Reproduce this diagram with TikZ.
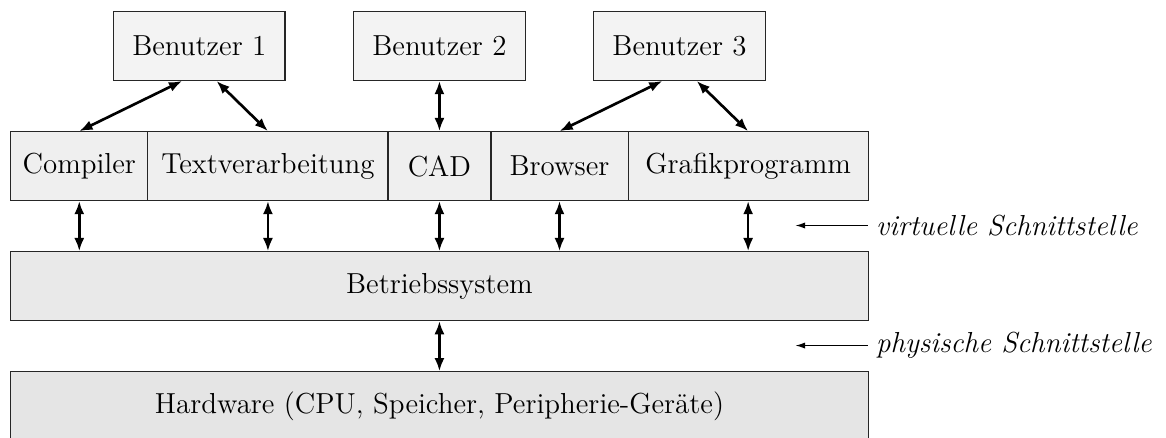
\documentclass[tikz,border=0pt]{standalone}
\usetikzlibrary{arrows.meta}
\definecolor{cuser}{HTML}{F3F3F3}
\definecolor{capp}{HTML}{EFEFEF}
\definecolor{cos}{HTML}{E9E9E9}
\definecolor{chw}{HTML}{E5E5E5}
\tikzset{
  box/.style={draw=black!85, line width=0.5pt, minimum height=1cm, inner sep=0pt, anchor=north west, font=\large},
  userbox/.style={box, fill=cuser, minimum width=2.5cm},
  appbox/.style={box, fill=capp},
  link/.style={{Latex[length=5.5pt,width=4.2pt]}-{Latex[length=5.5pt,width=4.2pt]}, line width=1.1pt},
  note/.style={{Latex[length=4pt,width=2.6pt]}-, line width=0.45pt},
  notetext/.style={anchor=west, font=\large\itshape}
}
\begin{document}
\begin{tikzpicture}
\useasboundingbox (-0.147,0.162) rectangle (16.85,-6.22);
% users
\node[userbox] (b1) at (1.5,0) {Benutzer 1};
\node[userbox] (b2) at (5.0,0) {Benutzer 2};
\node[userbox] (b3) at (8.5,0) {Benutzer 3};
% applications
\node[appbox, minimum width=2.0cm] (comp) at (0,-1.75) {Compiler};
\node[appbox, minimum width=3.5cm] (text) at (2.0,-1.75) {Textverarbeitung};
\node[appbox, minimum width=1.5cm] (cad) at (5.5,-1.75) {CAD};
\node[appbox, minimum width=2.0cm] (brow) at (7.0,-1.75) {Browser};
\node[appbox, minimum width=3.5cm] (graf) at (9.0,-1.75) {Grafikprogramm};
% OS and hardware
\node[box, fill=cos, minimum width=12.5cm] (os) at (0,-3.5) {Betriebssystem};
\node[box, fill=chw, minimum width=12.5cm] (hw) at (0,-5.25) {Hardware (CPU, Speicher, Peripherie-Geräte)};
% user links
\draw[link] ([xshift=-0.25cm]b1.south) -- (comp.north);
\draw[link] ([xshift=0.25cm]b1.south) -- (text.north);
\draw[link] (b2.south) -- (cad.north);
\draw[link] ([xshift=-0.25cm]b3.south) -- (brow.north);
\draw[link] ([xshift=0.25cm]b3.south) -- (graf.north);
% app-os links
\foreach \a in {comp,text,cad,brow,graf}
  \draw[link] (\a.south) -- (\a.south |- os.north);
% os-hw link
\draw[link] (os.south) -- (hw.north);
% interface labels
\coordinate (v1) at (11.45,-3.125);
\coordinate (v2) at (12.5,-3.125);
\coordinate (p1) at (11.45,-4.875);
\coordinate (p2) at (12.5,-4.875);
\draw[note] (v1) -- (v2);
\draw[note] (p1) -- (p2);
\node[notetext] (vt) at (v2) {virtuelle Schnittstelle};
\node[notetext] (pt) at (p2) {physische Schnittstelle};
\end{tikzpicture}
\end{document}
